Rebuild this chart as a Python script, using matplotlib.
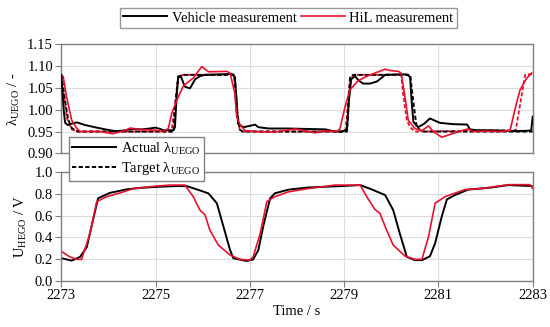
import numpy as np
import matplotlib
matplotlib.use("Agg")
import matplotlib.pyplot as plt

plt.rcParams['font.family'] = ['Liberation Serif', 'DejaVu Serif']
plt.rcParams['mathtext.fontset'] = 'custom'
plt.rcParams['mathtext.rm'] = 'Liberation Serif'

# lambda, vehicle (actual / target)
t_lv = [2273.00, 2273.05, 2273.08, 2273.14, 2273.22, 2273.33, 2273.50, 2273.71, 2273.93,
        2274.14, 2274.30, 2274.50, 2274.70, 2274.88, 2274.99, 2275.10, 2275.16, 2275.38,
        2275.41, 2275.45, 2275.48, 2275.53, 2275.62, 2275.73, 2275.84, 2275.94, 2276.05,
        2276.30, 2276.62, 2276.68, 2276.72, 2276.75, 2276.86, 2277.00, 2277.11, 2277.18,
        2277.40, 2277.80, 2278.20, 2278.60, 2278.81, 2278.95, 2279.06, 2279.10, 2279.15,
        2279.23, 2279.30, 2279.40, 2279.55, 2279.70, 2279.87, 2280.10, 2280.33, 2280.40,
        2280.43, 2280.47, 2280.57, 2280.70, 2280.82, 2281.03, 2281.31, 2281.61, 2281.67,
        2281.80, 2282.10, 2282.40, 2282.67, 2282.91, 2282.97, 2283.00]
lam_veh = [1.080, 1.000, 0.970, 0.965, 0.968, 0.971, 0.965, 0.960, 0.955,
           0.951, 0.952, 0.956, 0.955, 0.957, 0.959, 0.956, 0.953, 0.953,
           0.960, 1.038, 1.073, 1.078, 1.053, 1.049, 1.070, 1.077, 1.080,
           1.081, 1.082, 1.075, 1.020, 0.968, 0.960, 0.963, 0.966, 0.960,
           0.957, 0.957, 0.956, 0.955, 0.950, 0.950, 0.955, 1.020, 1.070,
           1.077, 1.068, 1.060, 1.060, 1.065, 1.080, 1.081, 1.081, 1.075,
           1.022, 0.972, 0.960, 0.968, 0.980, 0.970, 0.967, 0.966, 0.955,
           0.953, 0.953, 0.952, 0.951, 0.952, 0.953, 0.984]

t_lvt = [2273.00, 2273.08, 2273.14, 2273.22, 2273.35, 2275.38, 2275.41, 2275.48, 2275.59,
         2276.68, 2276.73, 2276.79, 2276.85, 2279.06, 2279.13, 2279.20, 2280.40, 2280.48,
         2280.54, 2280.65, 2283.00]
lam_veh_tgt = [1.080, 1.020, 0.980, 0.958, 0.950, 0.950, 1.000, 1.076, 1.080,
               1.080, 0.995, 0.954, 0.950, 0.950, 1.076, 1.080, 1.080, 1.007,
               0.960, 0.950, 0.950]

# lambda, HiL (actual / target)
t_lh = [2273.04, 2273.11, 2273.22, 2273.33, 2273.40, 2273.82, 2274.08, 2274.35, 2274.46,
        2274.67, 2275.00, 2275.16, 2275.27, 2275.34, 2275.45, 2275.59, 2275.80, 2275.98,
        2276.12, 2276.51, 2276.58, 2276.68, 2276.72, 2276.79, 2276.90, 2277.30, 2277.53,
        2277.96, 2278.38, 2278.59, 2278.84, 2278.91, 2279.02, 2279.12, 2279.30, 2279.51,
        2279.87, 2279.97, 2280.15, 2280.21, 2280.29, 2280.36, 2280.50, 2280.65, 2280.79,
        2280.89, 2281.07, 2281.21, 2281.49, 2281.63, 2281.74, 2282.00, 2282.30, 2282.52,
        2282.62, 2282.73, 2282.87, 2282.98]
lam_hil = [1.076, 1.030, 0.976, 0.957, 0.950, 0.950, 0.945, 0.952, 0.958,
           0.955, 0.953, 0.950, 0.957, 0.991, 1.022, 1.055, 1.073, 1.099,
           1.087, 1.088, 1.084, 1.038, 0.985, 0.966, 0.952, 0.949, 0.949,
           0.956, 0.947, 0.952, 0.950, 0.956, 1.007, 1.045, 1.067, 1.078,
           1.093, 1.090, 1.088, 1.084, 1.030, 0.976, 0.957, 0.952, 0.963,
           0.950, 0.937, 0.942, 0.952, 0.956, 0.950, 0.951, 0.950, 0.952,
           0.999, 1.045, 1.072, 1.084]

t_lht = [2273.00, 2273.06, 2273.12, 2273.22, 2273.35, 2275.34, 2275.41, 2275.48, 2275.59,
         2276.66, 2276.72, 2276.79, 2276.85, 2279.03, 2279.12, 2279.20, 2280.21, 2280.25,
         2280.33, 2280.40, 2280.50, 2282.64, 2282.84, 2283.00]
lam_hil_tgt = [1.080, 1.030, 0.980, 0.955, 0.950, 0.950, 1.010, 1.076, 1.080,
               1.080, 0.990, 0.952, 0.950, 0.950, 1.070, 1.080, 1.080, 1.038,
               0.976, 0.960, 0.950, 0.953, 1.080, 1.082]

# HEGO voltage
t_uv = [2273.01, 2273.22, 2273.40, 2273.54, 2273.64, 2273.78, 2274.03, 2274.39, 2274.67,
        2275.09, 2275.45, 2275.66, 2275.87, 2276.12, 2276.30, 2276.44, 2276.58, 2276.65,
        2276.93, 2277.07, 2277.18, 2277.29, 2277.43, 2277.53, 2277.82, 2278.24, 2278.95,
        2279.34, 2279.58, 2279.87, 2280.04, 2280.18, 2280.33, 2280.50, 2280.65, 2280.82,
        2280.93, 2281.07, 2281.18, 2281.35, 2281.63, 2282.13, 2282.48, 2282.98]
u_veh = [0.207, 0.185, 0.220, 0.310, 0.500, 0.760, 0.810, 0.843, 0.856,
         0.867, 0.873, 0.873, 0.843, 0.806, 0.714, 0.498, 0.283, 0.207,
         0.182, 0.196, 0.283, 0.514, 0.760, 0.806, 0.840, 0.860, 0.873,
         0.882, 0.843, 0.790, 0.652, 0.437, 0.220, 0.190, 0.190, 0.225,
         0.345, 0.590, 0.750, 0.790, 0.840, 0.860, 0.882, 0.873]

t_uh = [2273.01, 2273.18, 2273.33, 2273.43, 2273.61, 2273.75, 2273.96, 2274.25, 2274.53,
        2275.02, 2275.31, 2275.62, 2275.80, 2275.94, 2276.05, 2276.15, 2276.33, 2276.58,
        2276.79, 2277.00, 2277.07, 2277.22, 2277.36, 2277.53, 2277.82, 2278.24, 2278.81,
        2279.34, 2279.48, 2279.65, 2279.76, 2279.90, 2280.04, 2280.29, 2280.50, 2280.65,
        2280.79, 2280.93, 2281.14, 2281.56, 2281.92, 2282.48, 2282.94, 2283.00]
u_hil = [0.268, 0.220, 0.197, 0.197, 0.437, 0.729, 0.775, 0.810, 0.850,
         0.873, 0.882, 0.882, 0.775, 0.652, 0.606, 0.468, 0.329, 0.237,
         0.197, 0.190, 0.220, 0.437, 0.729, 0.775, 0.820, 0.850, 0.882,
         0.882, 0.775, 0.659, 0.620, 0.468, 0.329, 0.227, 0.197, 0.197,
         0.406, 0.714, 0.775, 0.840, 0.850, 0.886, 0.886, 0.850]

red = '#e8112d'
grey = '#808080'
fs = 10.5

fig = plt.figure(figsize=(5.5, 3.27), dpi=100)
ax1 = fig.add_axes([0.1115, 0.531, 0.857, 0.3335])
ax2 = fig.add_axes([0.1115, 0.1416, 0.857, 0.3315])

dash = (0, (2.2, 1.2))
ax1.plot(t_lvt, lam_veh_tgt, color='black', lw=1.4, linestyle=dash, zorder=3)
ax1.plot(t_lht, lam_hil_tgt, color=red, lw=1.3, linestyle=dash, zorder=2)
ax1.plot(t_lv, lam_veh, color='black', lw=1.4, zorder=3)
ax1.plot(t_lh, lam_hil, color=red, lw=1.2, zorder=4)

ax2.plot(t_uv, u_veh, color='black', lw=1.4)
ax2.plot(t_uh, u_hil, color=red, lw=1.2)

ax1.set_ylim(0.90, 1.15)
ax1.set_yticks(np.arange(0.90, 1.151, 0.05))
ax1.set_yticklabels(['0.90', '0.95', '1.00', '1.05', '1.10', '1.15'])
ax2.set_ylim(0.0, 1.0)
ax2.set_yticks(np.arange(0.0, 1.01, 0.2))
ax2.set_yticklabels(['0.0', '0.2', '0.4', '0.6', '0.8', '1.0'])

for ax in (ax1, ax2):
    ax.set_xlim(2273, 2283)
    ax.set_xticks([2273, 2275, 2277, 2279, 2281, 2283])
    ax.grid(True, color='#dddddd', lw=0.8)
    ax.set_axisbelow(True)
    for s in ax.spines.values():
        s.set_color(grey)
        s.set_linewidth(1.0)
    ax.tick_params(direction='out', color=grey, labelsize=fs, length=4, pad=2)

ax1.tick_params(axis='x', labelbottom=False, length=0)
ax2.set_xticklabels(['2273', '2275', '2277', '2279', '2281', '2283'])

ax1.set_ylabel('λ$_\\mathrm{UEGO}$ / -', fontsize=fs, labelpad=4)
ax2.set_ylabel('U$_\\mathrm{HEGO}$ / V', fontsize=fs, labelpad=4)
ax2.set_xlabel('Time / s', fontsize=fs, labelpad=2)

# legends
h_v, = ax1.plot([], [], color='black', lw=1.4)
h_h, = ax1.plot([], [], color=red, lw=1.2)
leg1 = fig.legend([h_v, h_h], ['Vehicle measurement', 'HiL measurement'],
                  loc='center', bbox_to_anchor=(0.524, 0.945), ncol=2,
                  fontsize=fs, frameon=True, fancybox=False, handlelength=3.0,
                  handletextpad=0.3, columnspacing=0.3, borderpad=0.25,
                  borderaxespad=0)
leg1.get_frame().set_edgecolor(grey)
leg1.get_frame().set_linewidth(1.0)

h_a, = ax1.plot([], [], color='black', lw=1.4)
h_t, = ax1.plot([], [], color='black', lw=1.4, linestyle=dash)
leg2 = fig.legend([h_a, h_t], ['Actual λ$_\\mathrm{UEGO}$', 'Target λ$_\\mathrm{UEGO}$'],
                  loc='center', bbox_to_anchor=(0.248, 0.515),
                  fontsize=fs, frameon=True, fancybox=False, handlelength=3.0,
                  handletextpad=0.3, borderpad=0.25, labelspacing=0.2,
                  borderaxespad=0, framealpha=1)
leg2.get_frame().set_edgecolor(grey)
leg2.get_frame().set_linewidth(1.0)
leg2.set_zorder(10)

fig.savefig('out.png', dpi=100)
